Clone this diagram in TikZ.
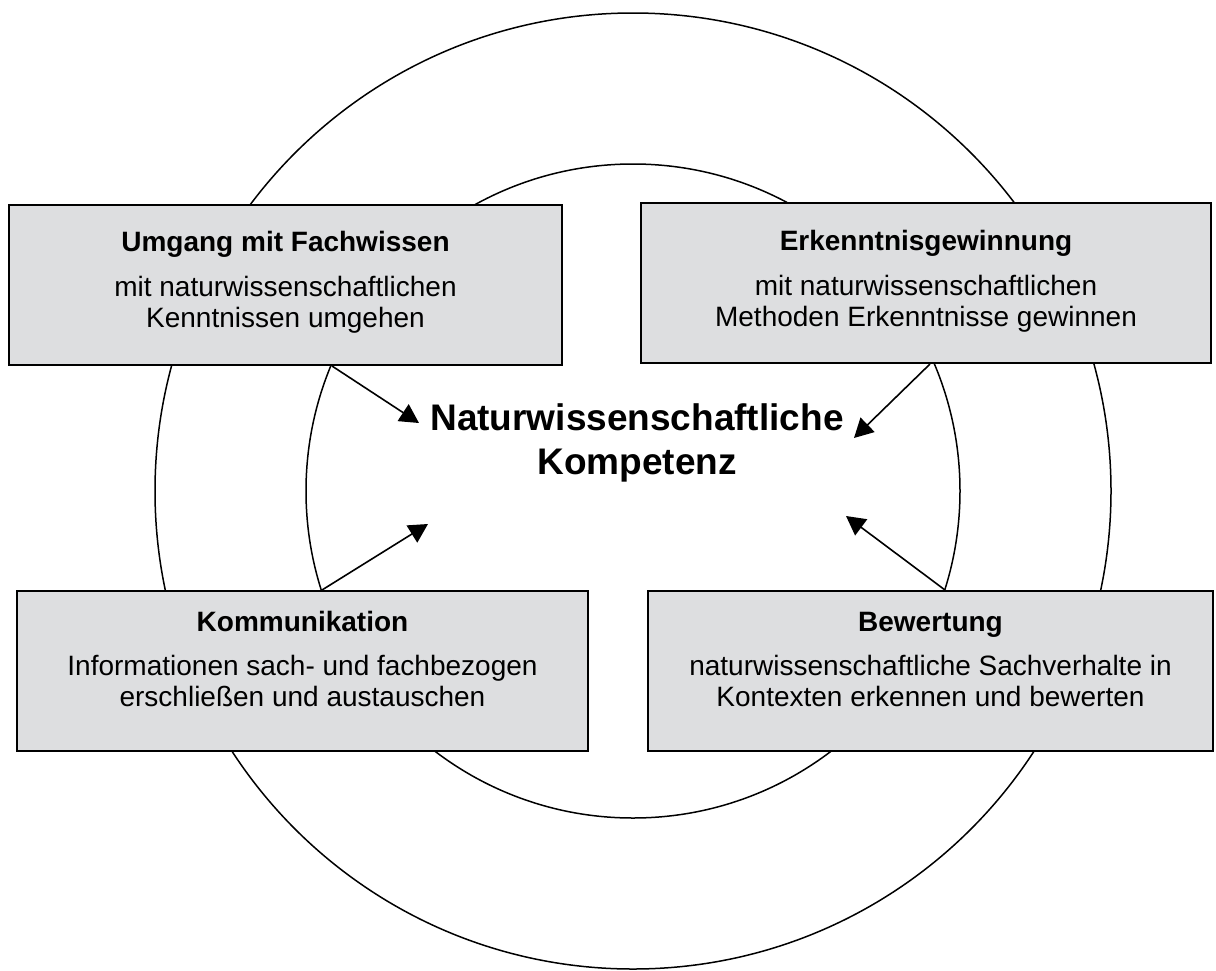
\documentclass[tikz,border=0pt]{standalone}
\usepackage{fontspec}
\setmainfont{Liberation Sans}
\usetikzlibrary{arrows.meta}
\definecolor{kastengrau}{RGB}{221,222,224}
\begin{document}
\begin{tikzpicture}[x=0.5pt,y=-0.5pt,
  kasten/.style={draw,line width=1pt,fill=kastengrau,minimum height=80pt,inner sep=0pt},
  titel/.style={anchor=base,font=\bfseries\fontsize{14}{15.5}\selectfont},
  inhalt/.style={anchor=base,align=center,font=\fontsize{14}{15.5}\selectfont},
  pfeil/.style={line width=0.8pt,-{Triangle[length=9.5pt,width=10pt]}}]
\useasboundingbox (0,0) rectangle (1216,970);
\draw[line width=0.75pt] (633,491) circle[radius=239pt]
  (633,491) circle[radius=163.5pt];
\node[kasten,minimum width=276.5pt] (fach) at (285.5,285) {};
\node[kasten,minimum width=285pt] (erk) at (926,283) {};
\node[kasten,minimum width=285.5pt] (komm) at (302.5,671) {};
\node[kasten,minimum width=282.5pt] (bew) at (930.5,671) {};
\node[titel] (fachtitel) at ([yshift=-23.5pt]fach.north) {Umgang mit Fachwissen};
\node[inhalt] (fachtext) at ([yshift=-61.5pt]fach.north) {mit naturwissenschaftlichen\\Kenntnissen umgehen};
\node[titel] (erktitel) at ([yshift=-24pt]erk.north) {Erkenntnisgewinnung};
\node[inhalt] (erktext) at ([yshift=-62pt]erk.north) {mit naturwissenschaftlichen\\Methoden Erkenntnisse gewinnen};
\node[titel] (kommtitel) at ([yshift=-20.5pt]komm.north) {Kommunikation};
\node[inhalt] (kommtext) at ([yshift=-58pt]komm.north) {Informationen sach- und fachbezogen\\erschließen und austauschen};
\node[titel] (bewtitel) at ([yshift=-20.5pt]bew.north) {Bewertung};
\node[inhalt] (bewtext) at ([yshift=-58pt]bew.north) {naturwissenschaftliche Sachverhalte in\\Kontexten erkennen und bewerten};
\node[anchor=base,align=center,font=\bfseries\fontsize{18.5}{22}\selectfont] (kompetenz) at (637,474) {Naturwissenschaftliche\\Kompetenz};
\coordinate (p1) at (419,423);
\coordinate (p2) at (854,438);
\coordinate (p3) at (428,524);
\coordinate (p4) at (846,516);
\draw[pfeil] ([xshift=23.25pt]fach.south) -- (p1);
\draw[pfeil] ([xshift=2pt]erk.south) -- (p2);
\draw[pfeil] ([xshift=9.75pt]komm.north) -- (p3);
\draw[pfeil] ([xshift=7.25pt]bew.north) -- (p4);
\end{tikzpicture}
\end{document}
